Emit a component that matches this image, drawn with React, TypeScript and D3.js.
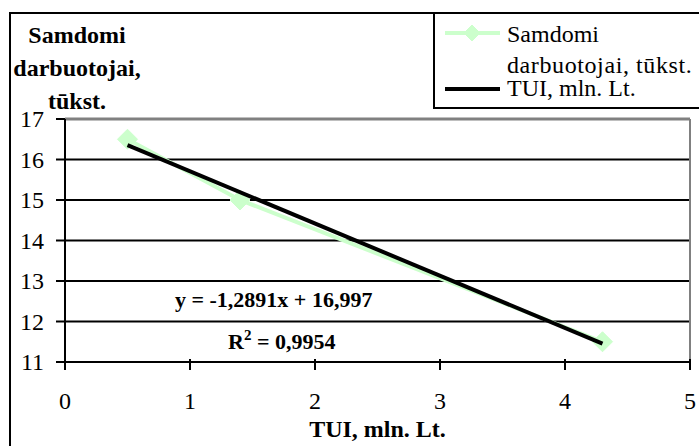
import React from "react";
import * as d3 from "d3";

const xValues = [0.5, 1.4, 4.3];
const yValues = [16.5, 15.0, 11.5];
const xTicks = [0, 1, 2, 3, 4, 5];
const yTicks = [11, 12, 13, 14, 15, 16, 17];
const yTitleLines = ["Samdomi", "darbuotojai,", "tūkst."];
const xTitle = "TUI, mln. Lt.";
const legendSeries = ["Samdomi", "darbuotojai, tūkst."];
const legendTrend = "TUI, mln. Lt.";
const equationText = "y = -1,2891x + 16,997";
const r2Value = "0,9954";

const W = 699;
const H = 446;
const FONT = "'Times New Roman', 'Liberation Serif', 'DejaVu Serif', Times, serif";
const GREEN = "#ccffcc";

export default function App() {
  const x = d3.scaleLinear().domain([0, 5]).range([65, 690]);
  const y = d3.scaleLinear().domain([11, 17]).range([362, 119]);

  // linear regression for trendline
  const mx = d3.mean(xValues) as number;
  const my = d3.mean(yValues) as number;
  let sxy = 0;
  let sxx = 0;
  xValues.forEach((v, i) => {
    sxy += (v - mx) * (yValues[i] - my);
    sxx += (v - mx) * (v - mx);
  });
  const slope = sxy / sxx;
  const intercept = my - slope * mx;
  const x0 = d3.min(xValues) as number;
  const x1 = d3.max(xValues) as number;

  const pts: [number, number][] = xValues.map((v, i) => [x(v), y(yValues[i])]);
  const line = d3.line();
  const diamond = (cx: number, cy: number, r: number) =>
    `M${cx},${cy - r}L${cx + r},${cy}L${cx},${cy + r}L${cx - r},${cy}Z`;

  const tp = (size: number, bold = false) => ({
    fontFamily: FONT,
    fontSize: size,
    fontWeight: bold ? 700 : 400,
  });

  return (
    <svg
      width={W}
      height={H}
      style={{ position: "absolute", left: 0, top: 0, background: "#fff" }}
    >
      <rect x={0} y={0} width={W} height={H} fill="#fff" />
      {/* outer frame */}
      <rect x={10} y={13} width={W} height={H} fill="none" stroke="#000" strokeWidth={2} />

      {/* gridlines */}
      {yTicks.map((t) => (
        <line
          key={"g" + t}
          x1={x(0)}
          x2={x(5)}
          y1={y(t)}
          y2={y(t)}
          stroke={t === 17 ? "#808080" : "#000"}
          strokeWidth={t === 17 ? 3 : 2}
        />
      ))}
      {/* right plot border */}
      <line x1={x(5)} x2={x(5)} y1={y(17)} y2={y(11)} stroke="#808080" strokeWidth={2} />

      {/* y axis */}
      <line x1={x(0)} x2={x(0)} y1={y(17)} y2={y(11) + 8} stroke="#000" strokeWidth={2} />
      {yTicks.map((t) => (
        <g key={"yt" + t}>
          <line x1={x(0) - 9} x2={x(0)} y1={y(t)} y2={y(t)} stroke="#000" strokeWidth={2} />
          <text x={44} y={y(t) + 8} textAnchor="end" {...tp(24)}>
            {t}
          </text>
        </g>
      ))}

      {/* x axis */}
      {xTicks.map((t) => (
        <g key={"xt" + t}>
          <line x1={x(t)} x2={x(t)} y1={y(11) - 3} y2={y(11) + 8} stroke="#000" strokeWidth={2} />
          <text x={x(t)} y={409} textAnchor="middle" {...tp(24)}>
            {t}
          </text>
        </g>
      ))}

      {/* series line */}
      <path d={line(pts) || ""} fill="none" stroke={GREEN} strokeWidth={4} />
      {pts.map((p, i) => (
        <path key={"d" + i} d={diamond(p[0], p[1], 10)} fill={GREEN} stroke={GREEN} />
      ))}

      {/* trendline */}
      <line
        x1={x(x0)}
        y1={y(slope * x0 + intercept)}
        x2={x(x1)}
        y2={y(slope * x1 + intercept)}
        stroke="#000"
        strokeWidth={4}
      />

      {/* equation */}
      <text x={175} y={307} {...tp(22, true)}>
        {equationText}
      </text>
      <text x={228} y={349} {...tp(22, true)}>
        R<tspan dy={-9} fontSize={15}>2</tspan>
        <tspan dy={9}>{" = " + r2Value}</tspan>
      </text>

      {/* y title */}
      {yTitleLines.map((s, i) => (
        <text key={"yl" + i} x={77} y={43 + i * 33} textAnchor="middle" {...tp(24, true)}>
          {s}
        </text>
      ))}

      {/* x title */}
      <text x={(x(0) + x(5)) / 2} y={437} textAnchor="middle" {...tp(24, true)}>
        {xTitle}
      </text>

      {/* legend */}
      <rect x={434} y={13} width={W} height={95} fill="#fff" stroke="#000" strokeWidth={2} />
      <line x1={445} x2={500} y1={33} y2={33} stroke={GREEN} strokeWidth={4} />
      <path d={diamond(472, 33, 8)} fill={GREEN} stroke={GREEN} />
      {legendSeries.map((s, i) => (
        <text
          key={"ls" + i}
          x={507}
          y={42 + i * 31}
          letterSpacing={i === 1 ? 0.6 : 0}
          {...tp(24)}
        >
          {s}
        </text>
      ))}
      <line x1={445} x2={500} y1={89} y2={89} stroke="#000" strokeWidth={4} />
      <text x={507} y={96} {...tp(24)}>
        {legendTrend}
      </text>
    </svg>
  );
}
